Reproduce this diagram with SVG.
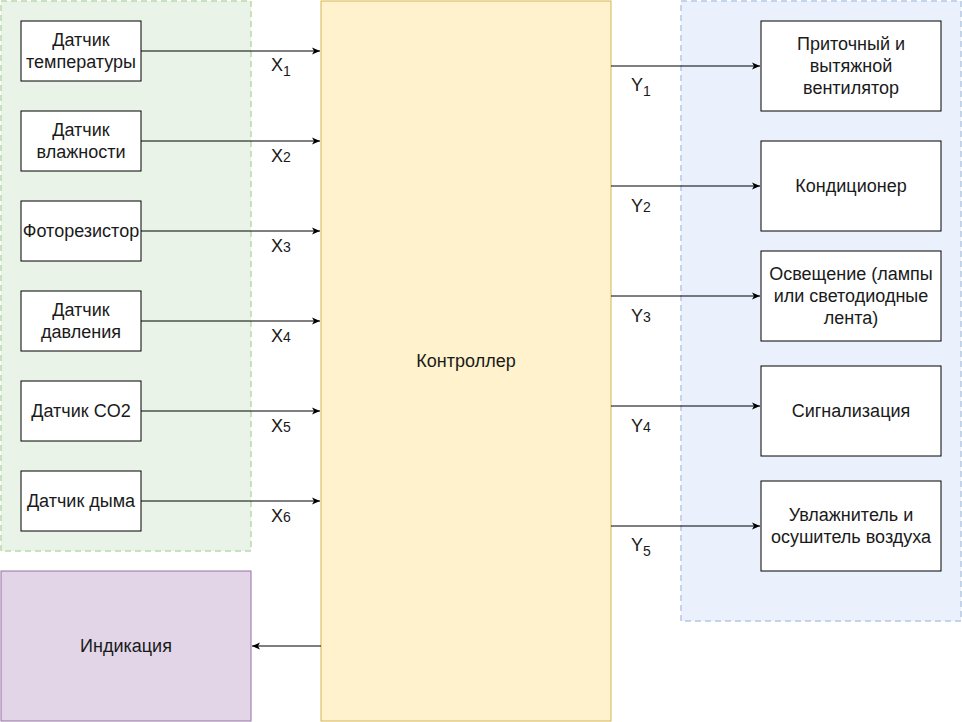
<svg xmlns="http://www.w3.org/2000/svg" width="962" height="722" viewBox="0 0 962 722">
<style>
text{font-family:"Liberation Sans",Arial,sans-serif;font-size:18px;fill:#1a1a1a}
.c{text-anchor:middle}
.box{fill:#ffffff;stroke:#000000;stroke-width:1}
.ln{stroke:#000000;stroke-width:1;fill:none}
.sub{font-size:14px}
</style>
<defs>
<marker id="ah" viewBox="0 0 10 10" refX="9" refY="5" markerWidth="10" markerHeight="10" markerUnits="userSpaceOnUse" orient="auto">
<path d="M1,1.5 L9,5 L1,8.5 L3,5 Z" fill="#000"/>
</marker>
</defs>
<rect width="962" height="722" fill="#ffffff"/>
<g id="sensors-group">
<rect x="1" y="1" width="250" height="550" fill="#e9f3e7" stroke="#b9d9ab" stroke-width="1.5" stroke-dasharray="6,4"/>
</g>
<g id="actuators-group">
<rect x="681" y="1" width="280" height="620" fill="#eaf1fc" stroke="#b4c7e3" stroke-width="1.5" stroke-dasharray="6,4"/>
</g>
<g id="controller">
<rect x="321" y="1" width="290" height="720" fill="#fff2cc" stroke="#d6b656"/>
<text class="c" x="466" y="367">Контроллер</text>
</g>
<g id="indication">
<rect x="1" y="571" width="250" height="150" fill="#e1d5e7" stroke="#9673a6"/>
<text class="c" x="126" y="652">Индикация</text>
</g>
<g id="s1"><rect class="box" x="21" y="21" width="120" height="60"/><text class="c" x="81" y="46">Датчик</text><text class="c" x="81" y="68">температуры</text></g>
<g id="s2"><rect class="box" x="21" y="111" width="120" height="60"/><text class="c" x="81" y="136">Датчик</text><text class="c" x="81" y="158">влажности</text></g>
<g id="s3"><rect class="box" x="21" y="201" width="120" height="60"/><text class="c" x="81" y="237">Фоторезистор</text></g>
<g id="s4"><rect class="box" x="21" y="291" width="120" height="60"/><text class="c" x="81" y="316">Датчик</text><text class="c" x="81" y="338">давления</text></g>
<g id="s5"><rect class="box" x="21" y="381" width="120" height="60"/><text class="c" x="81" y="417">Датчик CO2</text></g>
<g id="s6"><rect class="box" x="21" y="471" width="120" height="60"/><text class="c" x="81" y="507">Датчик дыма</text></g>
<g id="a1"><rect class="box" x="761" y="21" width="180" height="90"/><text class="c" x="851" y="50">Приточный и</text><text class="c" x="851" y="72">вытяжной</text><text class="c" x="851" y="94">вентилятор</text></g>
<g id="a2"><rect class="box" x="761" y="141" width="180" height="90"/><text class="c" x="851" y="192">Кондиционер</text></g>
<g id="a3"><rect class="box" x="761" y="251" width="180" height="90"/><text class="c" x="851" y="280">Освещение (лампы</text><text class="c" x="851" y="302">или светодиодные</text><text class="c" x="851" y="324">лента)</text></g>
<g id="a4"><rect class="box" x="761" y="366" width="180" height="90"/><text class="c" x="851" y="417">Сигнализация</text></g>
<g id="a5"><rect class="box" x="761" y="481" width="180" height="90"/><text class="c" x="851" y="521">Увлажнитель и</text><text class="c" x="851" y="543">осушитель воздуха</text></g>
<g id="connectors">
<line class="ln" x1="141" y1="51" x2="320" y2="51" marker-end="url(#ah)"/>
<line class="ln" x1="141" y1="141" x2="320" y2="141" marker-end="url(#ah)"/>
<line class="ln" x1="141" y1="231" x2="320" y2="231" marker-end="url(#ah)"/>
<line class="ln" x1="141" y1="321" x2="320" y2="321" marker-end="url(#ah)"/>
<line class="ln" x1="141" y1="411" x2="320" y2="411" marker-end="url(#ah)"/>
<line class="ln" x1="141" y1="501" x2="320" y2="501" marker-end="url(#ah)"/>
<line class="ln" x1="611" y1="66" x2="760" y2="66" marker-end="url(#ah)"/>
<line class="ln" x1="611" y1="186" x2="760" y2="186" marker-end="url(#ah)"/>
<line class="ln" x1="611" y1="296" x2="760" y2="296" marker-end="url(#ah)"/>
<line class="ln" x1="611" y1="406" x2="760" y2="406" marker-end="url(#ah)"/>
<line class="ln" x1="611" y1="526" x2="760" y2="526" marker-end="url(#ah)"/>
<line class="ln" x1="321" y1="646" x2="252" y2="646" marker-end="url(#ah)"/>
<text x="271" y="71">X<tspan class="sub" dy="5">1</tspan></text>
<text x="271" y="162">X<tspan class="sub">2</tspan></text>
<text x="271" y="252">X<tspan class="sub">3</tspan></text>
<text x="271" y="342">X<tspan class="sub">4</tspan></text>
<text x="271" y="432">X<tspan class="sub">5</tspan></text>
<text x="271" y="522">X<tspan class="sub">6</tspan></text>
<text x="631" y="91">Y<tspan class="sub" dy="5">1</tspan></text>
<text x="631" y="212">Y<tspan class="sub">2</tspan></text>
<text x="631" y="322">Y<tspan class="sub">3</tspan></text>
<text x="631" y="432">Y<tspan class="sub">4</tspan></text>
<text x="631" y="551">Y<tspan class="sub" dy="5">5</tspan></text>
</g>
</svg>
